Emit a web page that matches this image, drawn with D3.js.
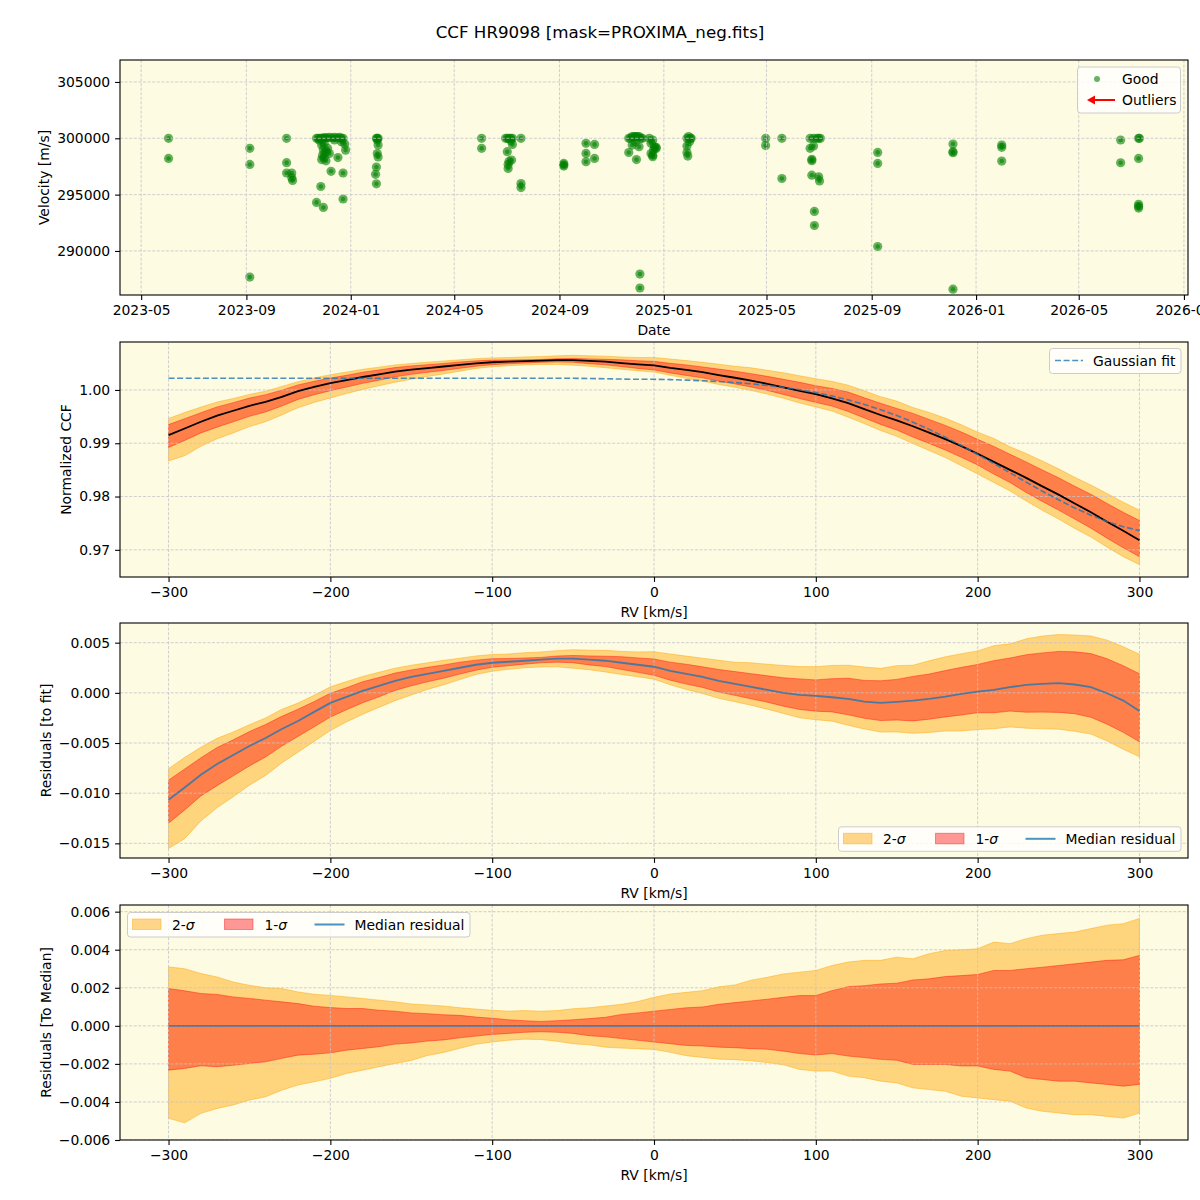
<!DOCTYPE html>
<html>
<head>
<meta charset="utf-8">
<script src="https://cdn.jsdelivr.net/npm/d3@7"></script>
<style>
  body { margin: 0; background: #fff; }
  svg text { font-family: "DejaVu Sans", sans-serif; }
</style>
</head>
<body>
<svg id="chart" width="1200" height="1200"></svg>
<script>
// ---- data ----
const rvObs = [
  ["2023-06-02", 300000], ["2023-06-02", 298210],
  ["2023-09-05", 299110], ["2023-09-05", 297680], ["2023-09-05", 287680],
  ["2023-10-18", 300000], ["2023-10-18", 297840], ["2023-10-18", 296920], ["2023-10-24", 296920],
  ["2023-10-24", 296500], ["2023-10-25", 296260],
  ["2023-11-22", 300000], ["2023-11-24", 300000], ["2023-11-26", 300000], ["2023-11-28", 300000],
  ["2023-11-30", 300050], ["2023-12-02", 300050], ["2023-12-04", 300050], ["2023-12-07", 300090],
  ["2023-12-10", 300050], ["2023-12-13", 300090], ["2023-12-16", 300050], ["2023-12-19", 300090],
  ["2023-12-21", 300000], ["2023-12-23", 300000], ["2023-11-25", 299850], ["2023-11-28", 299400],
  ["2023-12-01", 299550], ["2023-11-30", 298950], ["2023-12-03", 298800], ["2023-12-05", 299100],
  ["2023-12-07", 298650], ["2023-12-01", 298350], ["2023-11-28", 298110], ["2023-12-03", 298000],
  ["2023-11-29", 298500], ["2023-12-13", 299850], ["2023-12-17", 298290], ["2023-12-25", 299490],
  ["2023-12-26", 298950], ["2023-12-21", 299700], ["2023-12-09", 297070], ["2023-12-23", 296920],
  ["2023-11-27", 295720], ["2023-11-22", 294310], ["2023-11-30", 293860], ["2023-12-23", 294610],
  ["2024-01-31", 300000], ["2024-02-01", 300000], ["2024-02-02", 300000], ["2024-02-01", 299850],
  ["2024-02-02", 299400], ["2024-02-01", 298650], ["2024-02-02", 298350], ["2024-01-31", 297450],
  ["2024-01-30", 296800], ["2024-01-31", 295960],
  ["2024-06-02", 300000], ["2024-06-02", 299110],
  ["2024-06-30", 300000], ["2024-07-02", 300000], ["2024-07-04", 300000], ["2024-07-06", 300000],
  ["2024-07-08", 300000], ["2024-07-18", 300000], ["2024-07-08", 299460], ["2024-07-06", 299800],
  ["2024-07-02", 298810], ["2024-07-07", 298070], ["2024-07-04", 297950], ["2024-07-03", 297680],
  ["2024-07-03", 297320], ["2024-07-18", 295980], ["2024-07-18", 295630],
  ["2024-09-06", 297770], ["2024-09-06", 297530], ["2024-09-06", 297650],
  ["2024-10-02", 299550], ["2024-10-02", 298660], ["2024-10-02", 297920], ["2024-10-12", 299460],
  ["2024-10-12", 298210],
  ["2024-11-21", 300000], ["2024-11-23", 300000], ["2024-11-25", 300150], ["2024-11-27", 300150],
  ["2024-11-29", 300150], ["2024-12-01", 300150], ["2024-12-03", 300150], ["2024-12-05", 300000],
  ["2024-12-07", 300000], ["2024-11-29", 299700], ["2024-11-25", 299400], ["2024-12-03", 299250],
  ["2024-12-15", 300000], ["2024-12-17", 299550], ["2024-12-21", 299250], ["2024-12-23", 299100],
  ["2024-12-17", 298650], ["2024-11-21", 298740], ["2024-11-30", 298110], ["2024-12-19", 298500],
  ["2024-12-23", 299200], ["2024-12-19", 299850], ["2024-12-20", 298960], ["2024-12-19", 298360],
  ["2024-12-04", 287950], ["2024-12-04", 286710],
  ["2025-01-28", 300000], ["2025-01-30", 300150], ["2025-02-01", 300000], ["2025-02-02", 300000],
  ["2025-01-31", 299700], ["2025-01-28", 299310], ["2025-01-28", 298740], ["2025-01-29", 298420],
  ["2025-04-30", 300000], ["2025-04-30", 299350],
  ["2025-05-19", 300000], ["2025-05-19", 296430],
  ["2025-06-21", 300000], ["2025-06-25", 300000], ["2025-06-29", 300000], ["2025-07-01", 300000],
  ["2025-07-03", 300000], ["2025-06-21", 299110], ["2025-06-25", 299320], ["2025-06-23", 298130],
  ["2025-06-23", 298010], ["2025-06-23", 296730], ["2025-07-01", 296580], ["2025-07-02", 296220],
  ["2025-06-26", 293510], ["2025-06-26", 292260],
  ["2025-09-08", 298750], ["2025-09-08", 297770], ["2025-09-08", 290390],
  ["2025-12-05", 299490], ["2025-12-05", 298810], ["2025-12-05", 298720], ["2025-12-05", 286610],
  ["2026-01-31", 299400], ["2026-01-31", 299200], ["2026-01-31", 297980],
  ["2026-06-19", 299850], ["2026-06-19", 297830],
  ["2026-07-10", 300000], ["2026-07-11", 300000], ["2026-07-10", 298210], ["2026-07-10", 294140],
  ["2026-07-10", 293960], ["2026-07-10", 293810]
];

const rv = [-300, -290, -280, -270, -260, -250, -240, -230, -220, -210,
            -200, -190, -180, -170, -160, -150, -140, -130, -120, -110,
            -100, -90, -80, -70, -60, -50, -40, -30, -20, -10,
            0, 10, 20, 30, 40, 50, 60, 70, 80, 90,
            100, 110, 120, 130, 140, 150, 160, 170, 180, 190,
            200, 210, 220, 230, 240, 250, 260, 270, 280, 290, 300];

const ccfMedian = [0.99154, 0.99277, 0.99403, 0.99517, 0.9961, 0.99703, 0.99777, 0.9987, 0.99977, 1.0006,
                   1.00127, 1.00183, 1.00243, 1.00293, 1.00343, 1.00383, 1.0041, 1.0044, 1.0047, 1.005,
                   1.0052, 1.0053, 1.0054, 1.0055, 1.0056, 1.0056, 1.00545, 1.0053, 1.00505, 1.0048,
                   1.0046, 1.00414, 1.00375, 1.00333, 1.00278, 1.00229, 1.00175, 1.00115, 1.00049, 0.99984,
                   0.9992, 0.99843, 0.99754, 0.99641, 0.9953, 0.9943, 0.99319, 0.992, 0.99076, 0.98946,
                   0.98803, 0.9865, 0.98501, 0.9835, 0.9819, 0.98036, 0.97868, 0.97706, 0.97526, 0.97357, 0.9718];

const gaussFit = [1.0022, 1.0022, 1.0022, 1.0022, 1.0022, 1.0022, 1.0022, 1.0022, 1.0022, 1.0022,
                  1.0022, 1.0022, 1.0022, 1.0022, 1.0022, 1.0022, 1.0022, 1.0022, 1.0022, 1.0022,
                  1.0022, 1.0022, 1.0022, 1.0022, 1.0022, 1.0022, 1.00215, 1.0021, 1.00205, 1.0020,
                  1.0020, 1.00194, 1.00185, 1.00173, 1.00158, 1.00139, 1.00115, 1.00085, 1.00049, 1.00004,
                  0.9995, 0.99887, 0.99814, 0.99728, 0.9963, 0.9952, 0.99396, 0.9926, 0.99113, 0.98956,
                  0.9879, 0.9862, 0.98445, 0.9827, 0.981, 0.9794, 0.97785, 0.9765, 0.9753, 0.97434, 0.9736];

const residMedian = [-0.01066, -0.00943, -0.00817, -0.0071, -0.0062, -0.0053, -0.0045, -0.0036, -0.0028, -0.0019,
                     -0.001, -0.0004, 0.0002, 0.0007, 0.0012, 0.0016, 0.0019, 0.0022, 0.0025, 0.0028,
                     0.0030, 0.0031, 0.0032, 0.0033, 0.0034, 0.0034, 0.0033, 0.0032, 0.0030, 0.0028,
                     0.0026, 0.0022, 0.0019, 0.0016, 0.0012, 0.0009, 0.0006, 0.0003, 0.0, -0.0002,
                     -0.0003, -0.00044, -0.0006, -0.00087, -0.001, -0.0009, -0.00077, -0.0006, -0.00037, -0.0001,
                     0.00013, 0.0003, 0.00056, 0.0008, 0.0009, 0.00096, 0.00083, 0.00056, -0.00004, -0.00077, -0.0018];

// percentile bands, as offsets from the median
const sig2Hi = [0.0031, 0.0030, 0.00275, 0.00257, 0.0023, 0.00213, 0.0020, 0.00196, 0.00178, 0.00166,
                0.0016, 0.00152, 0.00144, 0.00135, 0.00126, 0.00115, 0.0011, 0.00104, 0.00095, 0.00088,
                0.00082, 0.00077, 0.0008, 0.00077, 0.0008, 0.0009, 0.00095, 0.00104, 0.00113, 0.00128,
                0.0015, 0.00167, 0.00176, 0.00185, 0.00205, 0.00215, 0.0024, 0.00255, 0.00273, 0.00282,
                0.00291, 0.00317, 0.00335, 0.00344, 0.00344, 0.00361, 0.00352, 0.00379, 0.00396, 0.004,
                0.00405, 0.0044, 0.00432, 0.00458, 0.00476, 0.00485, 0.00493, 0.00511, 0.00529, 0.00537, 0.00564];
const sig1Hi = [0.00196, 0.00184, 0.0017, 0.00165, 0.00152, 0.00144, 0.00135, 0.00126, 0.00117, 0.00103,
                0.00096, 0.00091, 0.00091, 0.00082, 0.00077, 0.00068, 0.00064, 0.00058, 0.00055, 0.00046,
                0.0004, 0.00032, 0.00027, 0.00023, 0.00027, 0.00032, 0.00038, 0.00045, 0.0006, 0.00068,
                0.00077, 0.00086, 0.00095, 0.00099, 0.00113, 0.00122, 0.00131, 0.0014, 0.0015, 0.00159,
                0.00159, 0.00185, 0.00206, 0.00211, 0.0022, 0.00224, 0.00241, 0.00247, 0.00259, 0.00264,
                0.0027, 0.00291, 0.00291, 0.003, 0.00308, 0.00317, 0.00326, 0.00335, 0.00344, 0.00347, 0.0037];
const sig1Lo = [-0.00233, -0.00224, -0.0021, -0.00215, -0.00207, -0.00198, -0.00189, -0.00171, -0.00154, -0.00149,
                -0.00142, -0.00128, -0.00119, -0.0011, -0.00096, -0.0009, -0.0008, -0.00074, -0.00063, -0.00054,
                -0.00045, -0.0004, -0.00034, -0.00031, -0.00034, -0.0004, -0.00052, -0.00058, -0.00067, -0.00076,
                -0.00085, -0.00094, -0.00103, -0.00106, -0.00112, -0.00115, -0.0012, -0.00123, -0.00133, -0.00146,
                -0.00153, -0.00146, -0.00159, -0.00167, -0.00176, -0.00181, -0.00203, -0.00203, -0.00203, -0.00211,
                -0.00211, -0.00229, -0.00238, -0.00273, -0.00282, -0.00291, -0.00291, -0.003, -0.00308, -0.00317, -0.00308];
const sig2Lo = [-0.00486, -0.0051, -0.0046, -0.00434, -0.00416, -0.0039, -0.00373, -0.00338, -0.00311, -0.00294,
                -0.00276, -0.0025, -0.00233, -0.00215, -0.00198, -0.00182, -0.00156, -0.0014, -0.00118, -0.00097,
                -0.00085, -0.00076, -0.0007, -0.00072, -0.00081, -0.00094, -0.001, -0.00112, -0.00117, -0.0012,
                -0.00124, -0.00139, -0.00157, -0.00166, -0.00175, -0.00178, -0.00184, -0.00193, -0.00205, -0.00229,
                -0.00238, -0.00238, -0.00264, -0.00273, -0.00291, -0.003, -0.00326, -0.00335, -0.00344, -0.0037,
                -0.00379, -0.00388, -0.00396, -0.00432, -0.00449, -0.00458, -0.00467, -0.00467, -0.00476, -0.00485, -0.00458];

const velTicks = [290000, 295000, 300000, 305000];
const ccfTicks = [0.97, 0.98, 0.99, 1.00];
const resTicks = [-0.015, -0.010, -0.005, 0.000, 0.005];
const medTicks = [-0.006, -0.004, -0.002, 0.000, 0.002, 0.004, 0.006];
const rvTicks = [-300, -200, -100, 0, 100, 200, 300];

// ---- layout ----
const L = 120, R = 1188;
const panels = [
  { top: 60, bottom: 295 },
  { top: 342, bottom: 577 },
  { top: 623, bottom: 858 },
  { top: 905, bottom: 1140 }
];
const BG = "#fdfbe2";
const GRID = "#c4c4cc";
const FS = 13.9;
const C2 = "orange", C1 = "red", BLUE = "#1f77b4";

const svg = d3.select("#chart");
svg.append("rect").attr("width", 1200).attr("height", 1200).attr("fill", "#fff");

svg.append("text")
  .attr("x", 600).attr("y", 38)
  .attr("text-anchor", "middle").attr("font-size", 16.7)
  .text("CCF HR9098 [mask=PROXIMA_neg.fits]");

const defs = svg.append("defs");

function panelBase(i) {
  const p = panels[i];
  svg.append("rect").attr("x", L).attr("y", p.top)
    .attr("width", R - L).attr("height", p.bottom - p.top).attr("fill", BG);
  defs.append("clipPath").attr("id", "clip" + i)
    .append("rect").attr("x", L).attr("y", p.top).attr("width", R - L).attr("height", p.bottom - p.top);
  return svg.append("g").attr("clip-path", `url(#clip${i})`);
}

function grid(g, x, y, xt, yt, i) {
  const p = panels[i];
  const gg = g.append("g").attr("stroke", GRID).attr("stroke-width", 0.8).attr("stroke-dasharray", "3,1.6");
  gg.selectAll(".gx").data(xt).join("line")
    .attr("x1", d => x(d)).attr("x2", d => x(d)).attr("y1", p.top).attr("y2", p.bottom);
  gg.selectAll(".gy").data(yt).join("line")
    .attr("x1", L).attr("x2", R).attr("y1", d => y(d)).attr("y2", d => y(d));
}

function axes(i, x, y, xt, yt, xfmt, yfmt, xlabel, ylabel, ylabelX) {
  const p = panels[i];
  const ax = svg.append("g").attr("transform", `translate(0,${p.bottom})`)
    .call(d3.axisBottom(x).tickValues(xt).tickFormat(xfmt).tickSize(4.9).tickPadding(4.9).tickSizeOuter(0));
  const ay = svg.append("g").attr("transform", `translate(${L},0)`)
    .call(d3.axisLeft(y).tickValues(yt).tickFormat(yfmt).tickSize(4.9).tickPadding(4.9).tickSizeOuter(0));
  for (const a of [ax, ay]) {
    a.select(".domain").remove();
    a.attr("font-size", FS).attr("font-family", "DejaVu Sans");
    a.selectAll("line").attr("stroke", "#000").attr("stroke-width", 1.1);
    a.selectAll("text").attr("fill", "#000");
  }
  svg.append("rect").attr("x", L).attr("y", p.top)
    .attr("width", R - L).attr("height", p.bottom - p.top)
    .attr("fill", "none").attr("stroke", "#000").attr("stroke-width", 1.1);
  svg.append("text").attr("x", (L + R) / 2).attr("y", p.bottom + 40)
    .attr("text-anchor", "middle").attr("font-size", FS).text(xlabel);
  svg.append("text")
    .attr("transform", `translate(${ylabelX},${(p.top + p.bottom) / 2}) rotate(-90)`)
    .attr("text-anchor", "middle").attr("dominant-baseline", "central")
    .attr("font-size", FS).text(ylabel);
}

function legendBox(x, y, w, h) {
  svg.append("rect").attr("x", x).attr("y", y).attr("width", w).attr("height", h)
    .attr("rx", 3).attr("fill", "#fff").attr("fill-opacity", 0.8)
    .attr("stroke", "#cccccc").attr("stroke-width", 1);
}

function sigmaText(x, y, n) {
  const t = svg.append("text").attr("x", x).attr("y", y).attr("font-size", FS)
    .attr("dominant-baseline", "central");
  t.append("tspan").text(n + "-");
  t.append("tspan").attr("font-style", "italic").text("σ");
}

function bandLegend(x, y, w) {
  legendBox(x, y, w, 24.5);
  const cy = y + 12;
  svg.append("rect").attr("x", x + 5).attr("y", cy - 5.5).attr("width", 28.5).attr("height", 10.5)
    .attr("fill", C2).attr("fill-opacity", 0.45).attr("stroke", C2).attr("stroke-opacity", 0.45);
  sigmaText(x + 44.5, cy, 2);
  svg.append("rect").attr("x", x + 97).attr("y", cy - 5.5).attr("width", 28.5).attr("height", 10.5)
    .attr("fill", C1).attr("fill-opacity", 0.4).attr("stroke", C1).attr("stroke-opacity", 0.4);
  sigmaText(x + 137, cy, 1);
  svg.append("line").attr("x1", x + 187).attr("x2", x + 217).attr("y1", cy).attr("y2", cy)
    .attr("stroke", BLUE).attr("stroke-opacity", 0.8).attr("stroke-width", 2);
  svg.append("text").attr("x", x + 227).attr("y", cy).attr("font-size", FS)
    .attr("dominant-baseline", "central").text("Median residual");
}

// ---- panel 1: velocities vs date ----
const parseDate = d3.timeParse("%Y-%m-%d");
const obs = rvObs.map(([d, v]) => ({ date: parseDate(d), v }));
const [d0, d1] = d3.extent(obs, d => d.date);
const pad = (d1 - d0) * 0.05;
const xT = d3.scaleTime().domain([new Date(+d0 - pad), new Date(+d1 + pad)]).range([L, R]);
const yV = d3.scaleLinear().domain([286090, 306950]).range([panels[0].bottom, panels[0].top]);
const dateTicks = xT.ticks(d3.timeMonth.every(4));

const g1 = panelBase(0);
const pts = g1.append("g").attr("fill", "green");
pts.selectAll(".o").data(obs).join("circle")
  .attr("cx", d => xT(d.date)).attr("cy", d => yV(d.v)).attr("r", 4.6).attr("fill-opacity", 0.6);
pts.selectAll(".i").data(obs).join("circle")
  .attr("cx", d => xT(d.date)).attr("cy", d => yV(d.v)).attr("r", 2.3).attr("fill-opacity", 0.6);
grid(g1, xT, yV, dateTicks, velTicks, 0);
axes(0, xT, yV, dateTicks, velTicks, d3.timeFormat("%Y-%m"), d3.format("d"), "Date", "Velocity [m/s]", 44);

legendBox(1077.5, 67, 103, 46);
svg.append("circle").attr("cx", 1097).attr("cy", 79).attr("r", 3).attr("fill", "green").attr("fill-opacity", 0.6);
svg.append("text").attr("x", 1122).attr("y", 79).attr("font-size", FS).attr("dominant-baseline", "central").text("Good");
svg.append("line").attr("x1", 1093).attr("x2", 1115).attr("y1", 100).attr("y2", 100)
  .attr("stroke", "red").attr("stroke-width", 2);
svg.append("path").attr("d", "M1087,100 L1095,95.5 L1095,104.5 Z").attr("fill", "red");
svg.append("text").attr("x", 1122).attr("y", 100).attr("font-size", FS).attr("dominant-baseline", "central").text("Outliers");

// ---- shared rv scale ----
const xR = d3.scaleLinear().domain([-330, 330]).range([L, R]);
const idx = rv.map((_, i) => i);

function bands(g, y, base) {
  const a2 = d3.area().x(i => xR(rv[i])).y0(i => y(base[i] + sig2Lo[i])).y1(i => y(base[i] + sig2Hi[i]));
  const a1 = d3.area().x(i => xR(rv[i])).y0(i => y(base[i] + sig1Lo[i])).y1(i => y(base[i] + sig1Hi[i]));
  g.append("path").datum(idx).attr("d", a2)
    .attr("fill", C2).attr("fill-opacity", 0.45).attr("stroke", C2).attr("stroke-opacity", 0.45).attr("stroke-width", 1);
  g.append("path").datum(idx).attr("d", a1)
    .attr("fill", C1).attr("fill-opacity", 0.4).attr("stroke", C1).attr("stroke-opacity", 0.4).attr("stroke-width", 1);
}

// ---- panel 2: normalized CCF ----
const yC = d3.scaleLinear().domain([0.9649, 1.0090]).range([panels[1].bottom, panels[1].top]);
const g2 = panelBase(1);
bands(g2, yC, ccfMedian);
grid(g2, xR, yC, rvTicks, ccfTicks, 1);
g2.append("path").datum(idx)
  .attr("d", d3.line().x(i => xR(rv[i])).y(i => yC(ccfMedian[i])))
  .attr("fill", "none").attr("stroke", "#000").attr("stroke-width", 1.8);
g2.append("path").datum(idx)
  .attr("d", d3.line().x(i => xR(rv[i])).y(i => yC(gaussFit[i])))
  .attr("fill", "none").attr("stroke", BLUE).attr("stroke-opacity", 0.8)
  .attr("stroke-width", 1.6).attr("stroke-dasharray", "6,2.6");
axes(1, xR, yC, rvTicks, ccfTicks, d3.format("d"), d3.format(".2f"), "RV [km/s]", "Normalized CCF", 66);

legendBox(1049.5, 348.5, 131.5, 25);
svg.append("line").attr("x1", 1055).attr("x2", 1083).attr("y1", 360.5).attr("y2", 360.5)
  .attr("stroke", BLUE).attr("stroke-opacity", 0.8).attr("stroke-width", 1.6).attr("stroke-dasharray", "6,2.6");
svg.append("text").attr("x", 1093).attr("y", 360.5).attr("font-size", FS)
  .attr("dominant-baseline", "central").text("Gaussian fit");

// ---- panel 3: residuals to fit ----
const yRes = d3.scaleLinear().domain([-0.01646, 0.00696]).range([panels[2].bottom, panels[2].top]);
const g3 = panelBase(2);
bands(g3, yRes, residMedian);
grid(g3, xR, yRes, rvTicks, resTicks, 2);
g3.append("path").datum(idx)
  .attr("d", d3.line().x(i => xR(rv[i])).y(i => yRes(residMedian[i])))
  .attr("fill", "none").attr("stroke", BLUE).attr("stroke-opacity", 0.8).attr("stroke-width", 1.8);
axes(2, xR, yRes, rvTicks, resTicks, d3.format("d"), d3.format(".3f"), "RV [km/s]", "Residuals [to fit]", 46);
bandLegend(838.5, 826.8, 342.5);

// ---- panel 4: residuals to median ----
const yMed = d3.scaleLinear().domain([-0.006, 0.00635]).range([panels[3].bottom, panels[3].top]);
const g4 = panelBase(3);
const zeroBase = rv.map(() => 0);
bands(g4, yMed, zeroBase);
grid(g4, xR, yMed, rvTicks, medTicks, 3);
g4.append("path").datum(idx)
  .attr("d", d3.line().x(i => xR(rv[i])).y(i => yMed(zeroBase[i])))
  .attr("fill", "none").attr("stroke", BLUE).attr("stroke-opacity", 0.8).attr("stroke-width", 1.8);
axes(3, xR, yMed, rvTicks, medTicks, d3.format("d"), d3.format(".3f"), "RV [km/s]", "Residuals [To Median]", 46);
bandLegend(127.5, 912.5, 342.5);
</script>
</body>
</html>
